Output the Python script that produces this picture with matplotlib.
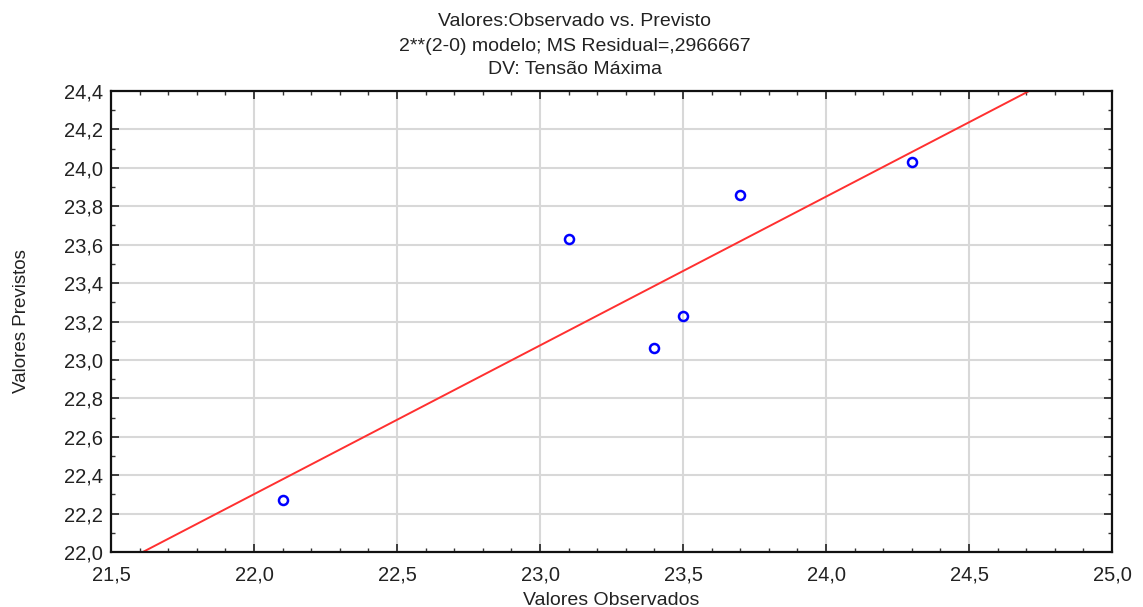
import numpy as np
import matplotlib
matplotlib.use("Agg")
import matplotlib.pyplot as plt
from matplotlib.ticker import MultipleLocator, FuncFormatter

observed = [22.1, 23.1, 23.4, 23.5, 23.7, 24.3]
predicted = [22.27, 23.63, 23.06, 23.23, 23.86, 24.03]
title_lines = ["Valores:Observado vs. Previsto",
               "2**(2-0) modelo; MS Residual=,2966667",
               "DV: Tensão Máxima"]
xlabel = "Valores Observados"
ylabel = "Valores Previstos"

plt.rcParams['font.family'] = ['Liberation Sans', 'DejaVu Sans']

fig = plt.figure(figsize=(11.43, 6.07), dpi=100)
ax = fig.add_axes([0.0971, 0.0906, 0.8758, 0.7594])

ax.set_xlim(21.5, 25.0)
ax.set_ylim(22.0, 24.4)

slope, intercept = np.polyfit(observed, predicted, 1)
xs = np.array([21.0, 25.5])
ax.plot(xs, slope * xs + intercept, color='#ff3030', lw=1.4, zorder=2)

ax.plot(observed, predicted, linestyle='none', marker='o', markersize=6.5,
        markerfacecolor='none', markeredgecolor='#0000ff', markeredgewidth=1.8, zorder=3)

ax.xaxis.set_major_locator(MultipleLocator(0.5))
ax.xaxis.set_minor_locator(MultipleLocator(0.1))
ax.yaxis.set_major_locator(MultipleLocator(0.2))
ax.yaxis.set_minor_locator(MultipleLocator(0.1))
fmt = FuncFormatter(lambda v, p: f"{v:.1f}".replace('.', ','))
ax.xaxis.set_major_formatter(fmt)
ax.yaxis.set_major_formatter(fmt)

ax.grid(True, which='major', color='#d8d8d8', lw=1.5, zorder=0)
ax.set_axisbelow(True)
ax.tick_params(which='both', direction='in', top=True, right=True, color='#333333')
ax.tick_params(which='major', length=6, width=1.2, labelsize=14.5, colors='#222222')
ax.tick_params(which='minor', length=3, width=1.0)
ax.tick_params(axis='x', pad=10)
ax.tick_params(axis='y', pad=6)
for s in ax.spines.values():
    s.set_linewidth(1.6)
    s.set_color('#111111')

ax.set_xlabel(xlabel, fontsize=14, color='#222222', labelpad=5)
ax.set_ylabel(ylabel, fontsize=13.5, color='#222222')
ax.yaxis.set_label_coords(-0.081, 0.5)

ys = [0.964, 0.924, 0.885]
for t, y in zip(title_lines, ys):
    fig.text(0.503, y, t, ha='center', va='center', fontsize=14, color='#222222')

fig.savefig("out.png", dpi=100)
